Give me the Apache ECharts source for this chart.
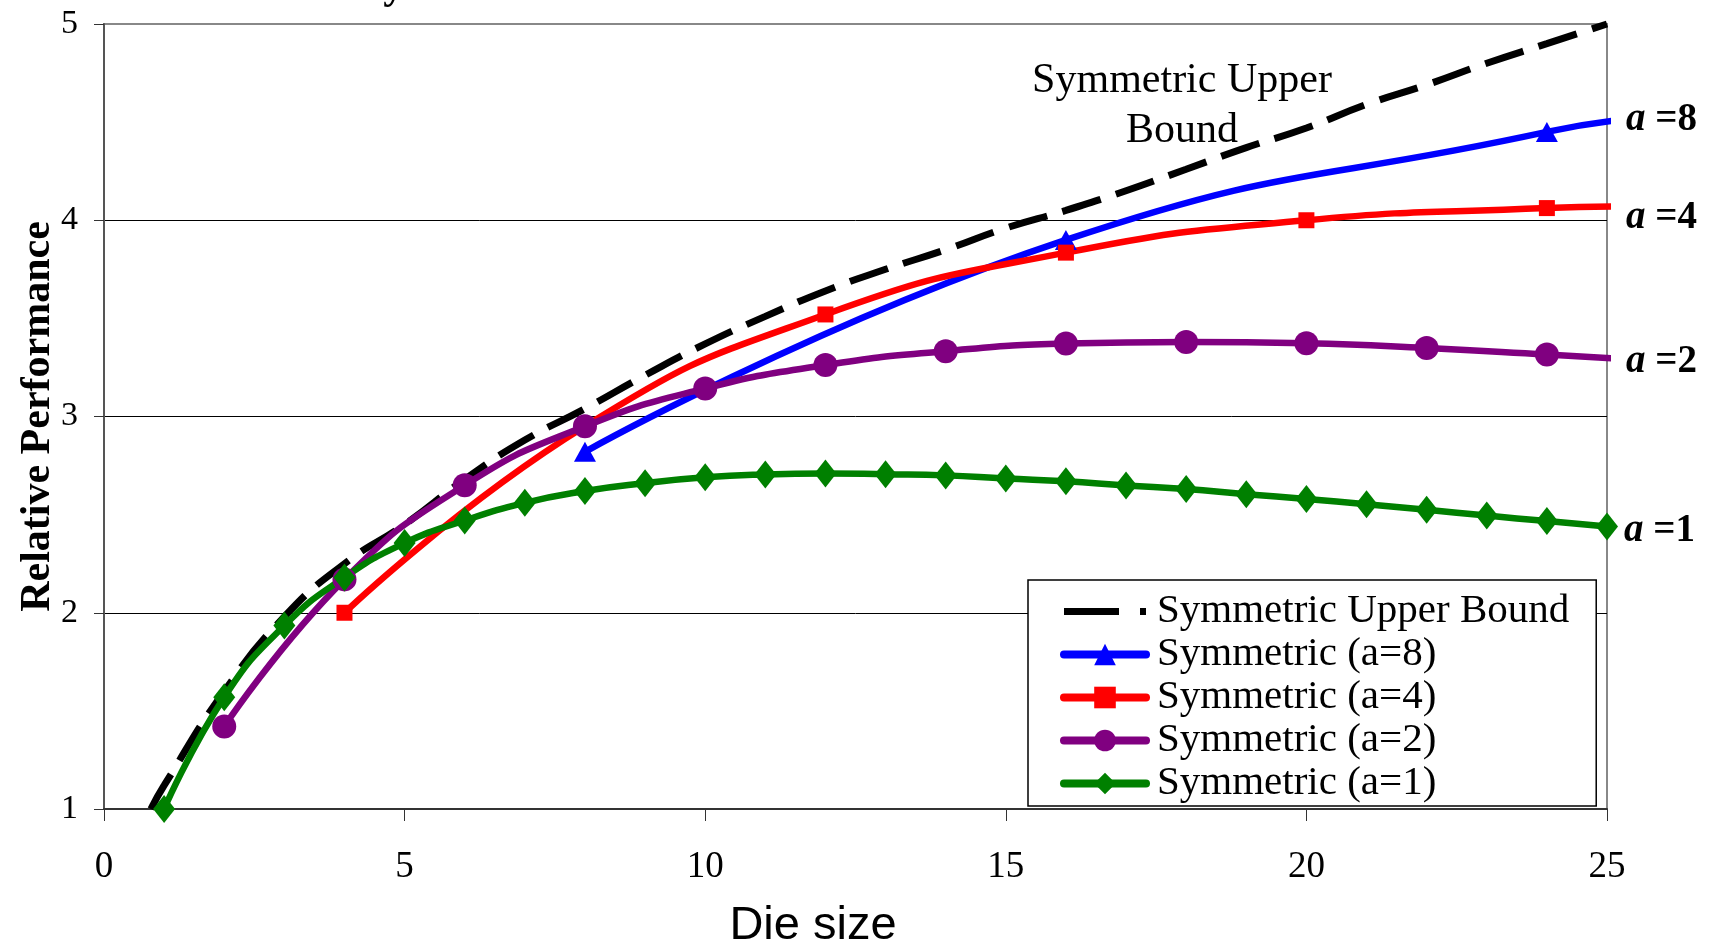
<!DOCTYPE html>
<html>
<head>
<meta charset="utf-8">
<title>Symmetric Relative Performance</title>
<script src="https://cdn.jsdelivr.net/npm/echarts@6/dist/echarts.min.js"></script>
<style>
  html, body { margin: 0; padding: 0; background: #fff; }
  #chart { width: 1711px; height: 941px; }
</style>
</head>
<body>
<div id="chart"></div>
<script>
// values
const upperX = [0.78, 1, 2, 3, 4, 5, 6, 7, 8, 9, 10, 11, 12, 13, 14, 15, 16, 17, 18, 19, 20, 21, 22, 23, 24, 25]
const upperY = [1.0, 1.12, 1.6, 1.98, 2.25, 2.45, 2.68, 2.88, 3.04, 3.21, 3.37, 3.51, 3.64, 3.75, 3.85, 3.96, 4.05, 4.15, 4.26, 4.37, 4.47, 4.59, 4.69, 4.8, 4.9, 5.0]

const a8X = [8, 16, 24, 25.2]
const a8Y = [2.82, 3.9, 4.45, 4.51]

const a4X = [4, 8, 12, 16, 20, 24, 25.2]
const a4Y = [2.0, 2.95, 3.52, 3.835, 4.0, 4.062, 4.07]

const a2X = [2, 4, 6, 8, 10, 12, 14, 16, 18, 20, 22, 24, 25.2]
const a2Y = [1.42, 2.17, 2.65, 2.95, 3.143, 3.262, 3.333, 3.372, 3.38, 3.373, 3.349, 3.316, 3.295]

const a1X = [1, 2, 3, 4, 5, 6, 7, 8, 9, 10, 11, 12, 13, 14, 15, 16, 17, 18, 19, 20, 21, 22, 23, 24, 25]
const a1Y = [1.0, 1.57, 1.935, 2.18, 2.355, 2.47, 2.56, 2.62, 2.66, 2.69, 2.705, 2.71, 2.706, 2.7, 2.684, 2.67, 2.649, 2.631, 2.604, 2.58, 2.553, 2.525, 2.495, 2.467, 2.44]

const xTicks = [0, 5, 10, 15, 20, 25]
const yTicks = [1, 2, 3, 4, 5]

const serif = 'Liberation Serif, Times New Roman, serif'

// last point of the a=8/4/2 lines has no marker
function pairs(xs, ys, lastPlain) {
  return xs.map((x, i) => {
    if (lastPlain && i === xs.length - 1) {
      return { value: [x, ys[i]], symbol: 'none' }
    }
    return [x, ys[i]]
  })
}

function endLabel(n, dist, dy) {
  return {
    show: true,
    distance: dist,
    offset: [0, dy],
    formatter: '{a|a}{b| =' + n + '}',
    rich: {
      a: { fontFamily: serif, fontSize: 39, fontWeight: 'bold', fontStyle: 'italic', color: '#000' },
      b: { fontFamily: serif, fontSize: 39, fontWeight: 'bold', color: '#000' }
    }
  }
}

const myChart = echarts.init(document.getElementById('chart'))
myChart.setOption({
  animation: false,
  grid: {
    left: 104,
    right: 104,
    top: 24,
    bottom: 132,
    containLabel: false,
    outerBoundsMode: 'none',
    show: true,
    borderColor: '#888',
    borderWidth: 2
  },
  xAxis: {
    type: 'value',
    min: xTicks[0],
    max: xTicks[xTicks.length - 1],
    interval: 5,
    name: 'Die size',
    nameLocation: 'middle',
    nameGap: 94,
    nameMoveOverlap: false,
    nameTextStyle: {
      fontFamily: 'Liberation Sans, Arial, sans-serif',
      fontSize: 47,
      color: '#000',
      padding: [0, 85, 0, 0]
    },
    axisLine: { lineStyle: { color: '#333', width: 2 } },
    axisTick: { show: true, inside: false, length: 12, lineStyle: { color: '#333', width: 1 } },
    axisLabel: { fontFamily: serif, fontSize: 37, color: '#000', margin: 40 },
    splitLine: { show: false }
  },
  yAxis: {
    type: 'value',
    min: yTicks[0],
    max: yTicks[yTicks.length - 1],
    interval: 1,
    name: 'Relative Performance',
    nameLocation: 'middle',
    nameGap: 45,
    nameMoveOverlap: false,
    nameTextStyle: {
      fontFamily: serif,
      fontSize: 42,
      fontWeight: 'bold',
      color: '#000'
    },
    axisLine: { show: true, lineStyle: { color: '#555', width: 2 } },
    axisTick: { show: true, inside: false, length: 10, lineStyle: { color: '#333', width: 1 } },
    axisLabel: { fontFamily: serif, fontSize: 34, color: '#000', margin: 26 },
    splitLine: {
      show: true,
      showMinLine: false,
      showMaxLine: false,
      lineStyle: { color: '#000', width: 1 }
    }
  },
  legend: {
    orient: 'vertical',
    left: 1028,
    top: 580,
    width: 578,
    padding: [10, 27, 1, 32],
    itemGap: 0,
    itemWidth: 82,
    itemHeight: 27,
    backgroundColor: '#fff',
    borderColor: '#000',
    borderWidth: 1.5,
    borderRadius: 0,
    lineStyle: { width: 8, cap: 'round' },
    textStyle: {
      fontFamily: serif,
      fontSize: 41,
      lineHeight: 43,
      color: '#000',
      padding: [0, 0, 0, 6]
    },
    data: [
      {
        name: 'Symmetric Upper Bound',
        // long dash then a dot, like the original key
        icon: 'path://M0,0M82,27M0,10L55,10L55,17L0,17ZM76,10L82,10L82,17L76,17Z'
      },
      'Symmetric (a=8)', 'Symmetric (a=4)', 'Symmetric (a=2)', 'Symmetric (a=1)'
    ]
  },
  graphic: [
    {
      // title, cut off at the top edge
      type: 'text',
      left: 360,
      top: -34,
      style: {
        text: 'Symmetric CMP Performance vs. Die Size and Power',
        font: 'bold 42px ' + serif,
        fill: '#000'
      }
    },
    {
      type: 'text',
      x: 1182,
      y: 106,
      style: {
        text: 'Symmetric Upper\nBound',
        font: '42px ' + serif,
        lineHeight: 50,
        fill: '#000',
        align: 'center',
        verticalAlign: 'middle'
      }
    }
  ],
  series: [
    {
      name: 'Symmetric Upper Bound',
      type: 'line',
      smooth: true,
      symbol: 'none',
      clip: false,
      data: pairs(upperX, upperY, false),
      itemStyle: { color: '#000' },
      lineStyle: { color: '#000', width: 7, type: [40, 16] }
    },
    {
      name: 'Symmetric (a=8)',
      type: 'line',
      smooth: true,
      clip: false,
      symbol: 'triangle',
      symbolSize: [22, 20],
      data: pairs(a8X, a8Y, true),
      itemStyle: { color: '#0000ff' },
      lineStyle: { color: '#0000ff', width: 6.5 },
      endLabel: endLabel(8, 15, -2)
    },
    {
      name: 'Symmetric (a=4)',
      type: 'line',
      smooth: true,
      clip: false,
      symbol: 'rect',
      symbolSize: 16,
      data: pairs(a4X, a4Y, true),
      itemStyle: { color: '#ff0000' },
      lineStyle: { color: '#ff0000', width: 6.5 },
      endLabel: endLabel(4, 15, 11)
    },
    {
      name: 'Symmetric (a=2)',
      type: 'line',
      smooth: true,
      clip: false,
      symbol: 'circle',
      symbolSize: 24,
      data: pairs(a2X, a2Y, true),
      itemStyle: { color: '#800080' },
      lineStyle: { color: '#800080', width: 6.5 },
      endLabel: endLabel(2, 15, 4)
    },
    {
      name: 'Symmetric (a=1)',
      type: 'line',
      smooth: true,
      clip: false,
      symbol: 'diamond',
      symbolSize: [22, 28],
      data: pairs(a1X, a1Y, false),
      itemStyle: { color: '#008000' },
      lineStyle: { color: '#008000', width: 6.5 },
      endLabel: endLabel(1, 17, 5)
    }
  ]
})
</script>
</body>
</html>
